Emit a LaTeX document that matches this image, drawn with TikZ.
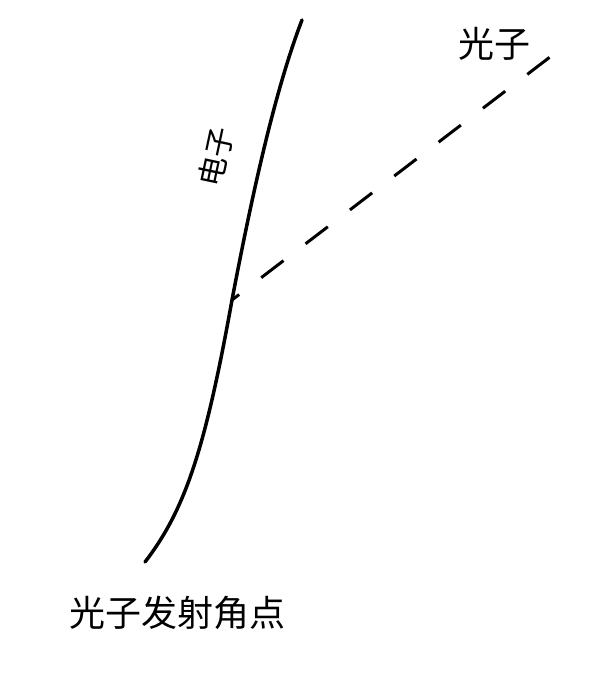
\documentclass[tikz,border=0pt]{standalone}
\usepackage{fontspec}
\newfontfamily\cjk{Noto Sans CJK SC}
\begin{document}
\begin{tikzpicture}[x=1pt,y=-1pt,
        track/.style = {line width=3.5pt, line cap=round},
        photon/.style = {line width=3pt, dash pattern=on 28pt off 27.8pt},
        lbl/.style = {font=\cjk\fontsize{36}{36}\selectfont, inner sep=0pt}]
    
    \useasboundingbox (0,0) rectangle (613,687);
    
    % Emission point and photon end
    \coordinate (E) at (232,300);
    \coordinate (P) at (550,57);
    
    % Electron track
    \draw[track] (145,562) .. controls (185,510) and (205,450) .. (E)
        .. controls (252,195) and (275,90) .. (302,20);
    
    % Photon
    \draw[photon, dash phase=19pt] (E) -- (P);
    
    % Labels
    \node[lbl] (photon) at (494,44) {光子};
    \node[lbl, rotate=78, font=\cjk\fontsize{30}{30}\selectfont] (electron) at (216,157) {电子};
    \node[lbl] (point) at (177,613) {光子发射角点};
    
    \end{tikzpicture}
\end{document}
